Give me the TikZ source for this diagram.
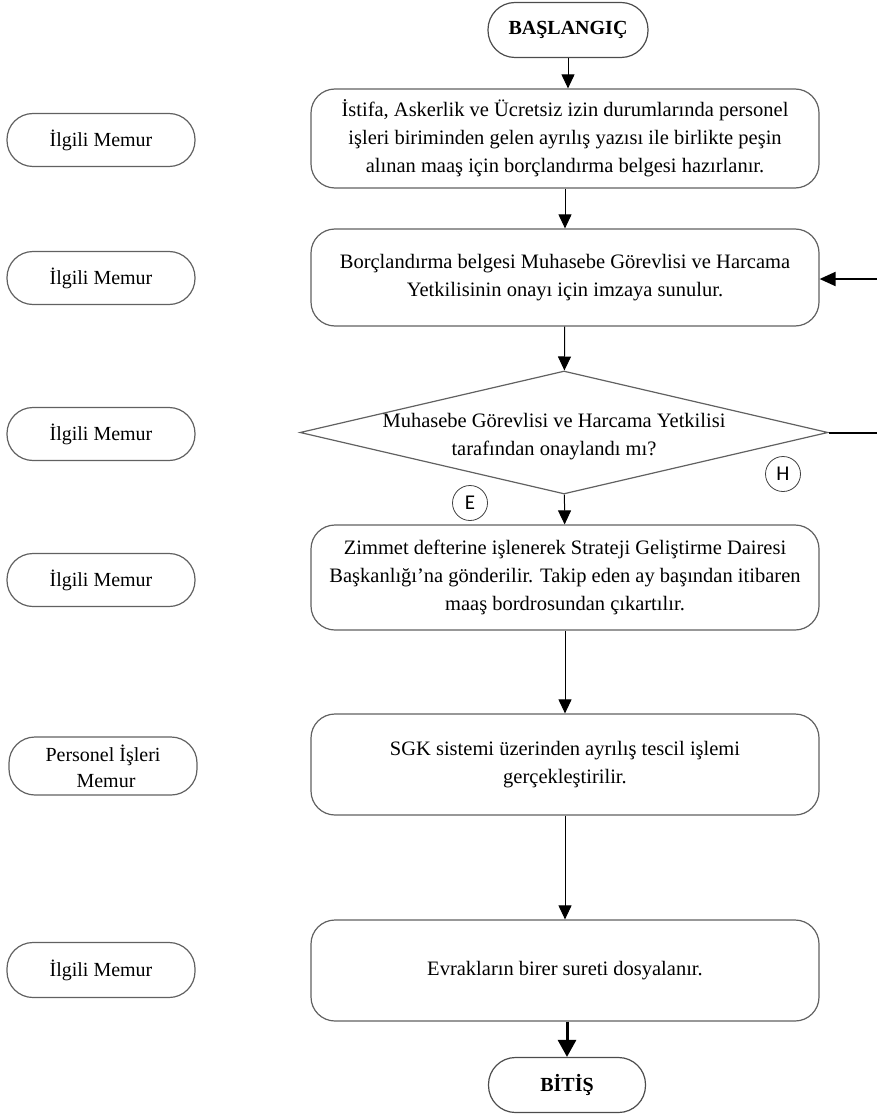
\documentclass[tikz,border=0pt]{standalone}
\usepackage{fontspec}
\setmainfont{Liberation Serif}
\newfontfamily\circfont{Carlito}
\usetikzlibrary{arrows.meta,shapes.geometric}
\begin{document}
\begin{tikzpicture}[x=1pt,y=-1pt,
  every node/.style={font=\fontsize{20.5}{28}\selectfont},
  procbox/.style={draw=black!62,line width=1.2pt,rounded corners=24pt,
    minimum width=508pt,inner sep=0pt,align=center},
  role/.style={draw=black!62,line width=1.2pt,rounded corners=26pt,
    minimum width=188pt,minimum height=53pt,inner sep=0pt,align=center,
    font=\fontsize{20}{26}\selectfont},
  terminal/.style={draw=black!70,line width=1.2pt,rounded corners=27pt,
    minimum width=160pt,minimum height=55pt,inner sep=0pt,
    font=\fontsize{20}{22}\selectfont\bfseries},
  decision/.style={draw=black!62,line width=1.2pt,diamond,
    minimum width=528pt,minimum height=123pt,inner sep=0pt},
  tag/.style={draw=black!75,line width=0.8pt,circle,minimum size=35pt,
    inner sep=0pt,font=\circfont\fontsize{21}{21}\selectfont},
  flow/.style={line width=1pt,-{Triangle[length=14pt,width=13pt]}},
  loop/.style={line width=2pt},
]
\useasboundingbox (0,0) rectangle (877,1115);

% main column
\node[terminal] (start) at (568,30) {BAŞLANGIÇ};
\node[procbox,minimum height=99pt] (b1) at (565,138.5)
  {İstifa, Askerlik ve Ücretsiz izin durumlarında personel\\
   işleri biriminden gelen ayrılış yazısı ile birlikte peşin\\
   alınan maaş için borçlandırma belgesi hazırlanır.};
\node[procbox,minimum height=97pt] (b2) at (565,277.5)
  {Borçlandırma belgesi Muhasebe Görevlisi ve Harcama\\
   Yetkilisinin onayı için imzaya sunulur.};
\node[decision] (d) at (564,432.5) {};
\node[align=center] (dtext) at (554,437)
  {Muhasebe Görevlisi ve Harcama Yetkilisi\\ tarafından onaylandı mı?};
\node[procbox,minimum height=105pt] (b3) at (565,577.5)
  {Zimmet defterine işlenerek Strateji Geliştirme Dairesi\\
   Başkanlığı’na gönderilir. Takip eden ay başından itibaren\\
   maaş bordrosundan çıkartılır.};
\node[procbox,minimum height=101pt] (b4) at (565,764.5)
  {SGK sistemi üzerinden ayrılış tescil işlemi\\ gerçekleştirilir.};
\node[procbox,minimum height=101pt] (b5) at (565,970.5)
  {Evrakların birer sureti dosyalanır.};
\node[terminal,minimum width=157pt] (end) at (567,1085) {BİTİŞ};

% branch tags
\node[tag] (e) at (470,503) {E};
\node[tag] (h) at (783,474) {H};

% responsible staff
\node[role] (r1) at (101,140) {İlgili Memur};
\node[role] (r2) at (101,278) {İlgili Memur};
\node[role] (r3) at (101,434) {İlgili Memur};
\node[role] (r4) at (101,580) {İlgili Memur};
\node[role,minimum height=58pt] (r5) at (103,766) {Personel İşleri\\\hspace*{6pt}Memur};
\node[role,minimum height=55pt] (r6) at (101,970) {İlgili Memur};

% connectors
\draw[flow] (start.south) -- (start.south |- b1.north);
\draw[flow] (b1) -- (b2);
\draw[flow] (b2) -- (d);
\draw[flow] (d) -- (b3);
\draw[flow] (b3) -- (b4);
\draw[flow] (b4) -- (b5);
\draw[line width=3pt,-{Triangle[length=17pt,width=18pt]}] (b5.south -| end) -- (end);

% return path for a negative answer
\coordinate (out) at (882,432.5);
\coordinate (back) at (882,279);
\draw[loop] (d.east) -- (out) -- (back);
\draw[loop,-{Triangle[length=16pt,width=14pt]}] (back) -- (b2.east |- back);
\end{tikzpicture}
\end{document}
